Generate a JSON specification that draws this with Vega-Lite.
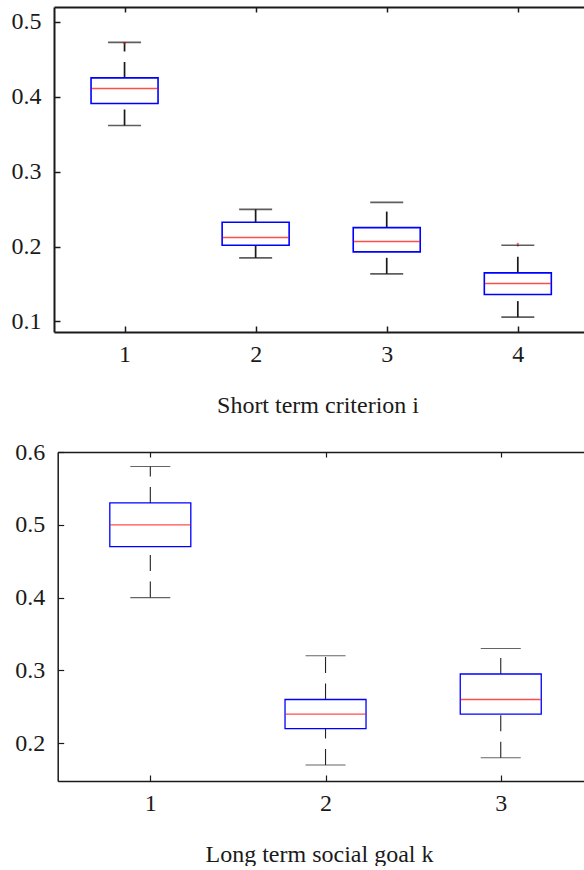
{
  "$schema": "https://vega.github.io/schema/vega-lite/v6.json",
  "background": "white",
  "padding": {"left": 11, "top": 6, "right": 0, "bottom": 0},
  "spacing": 23,
  "config": {
    "view": {"stroke": null},
    "font": "Liberation Serif",
    "axis": {
      "labelFont": "Liberation Serif",
      "titleFont": "Liberation Serif",
      "labelFontSize": 24,
      "titleFontSize": 24,
      "titleFontWeight": "normal",
      "labelColor": "#1a1a1a",
      "titleColor": "#1a1a1a",
      "domainColor": "#1a1a1a",
      "tickColor": "#1a1a1a",
      "grid": false
    }
  },
  "datasets": {
    "top": [
      {"k": 1, "lo": 0.3617, "q1": 0.3911, "med": 0.4111, "q3": 0.4253, "hi": 0.4728},
      {"k": 2, "lo": 0.1848, "q1": 0.2017, "med": 0.2120, "q3": 0.2324, "hi": 0.2497},
      {"k": 3, "lo": 0.1635, "q1": 0.1928, "med": 0.2067, "q3": 0.2253, "hi": 0.2591},
      {"k": 4, "lo": 0.1057, "q1": 0.1360, "med": 0.1507, "q3": 0.1648, "hi": 0.2017}
    ],
    "topOut": [
      {"k": 1, "v": 0.4715},
      {"k": 4, "v": 0.2035}
    ],
    "bottom": [
      {"k": 1, "lo": 0.40, "q1": 0.47, "med": 0.50, "q3": 0.53, "hi": 0.58},
      {"k": 2, "lo": 0.17, "q1": 0.22, "med": 0.24, "q3": 0.26, "hi": 0.32},
      {"k": 3, "lo": 0.18, "q1": 0.24, "med": 0.26, "q3": 0.295, "hi": 0.33}
    ]
  },
  "vconcat": [
    {
      "width": 532,
      "height": 325,
      "data": {"name": "top"},
      "resolve": {"axis": {"x": "independent"}},
      "layer": [
        {
          "mark": {"type": "rule", "color": "#1a1a1a", "strokeWidth": 1.7, "strokeDash": [16, 10.5]},
          "encoding": {
            "x": {"field": "k", "type": "quantitative", "scale": {"domain": [0.5, 4.482], "nice": false, "zero": false},
              "axis": {"orient": "bottom", "values": [1, 2, 3, 4], "format": "d", "title": "Short term criterion i", "titleX": 263.5, "tickSize": -6, "tickWidth": 1.5, "domainWidth": 2, "labelPadding": 16, "titlePadding": 27}},
            "y": {"field": "lo", "type": "quantitative", "scale": {"domain": [0.0858, 0.52], "nice": false, "zero": false},
              "axis": {"values": [0.1, 0.2, 0.3, 0.4, 0.5], "format": ".1f", "title": null, "tickSize": -6, "tickWidth": 1.5, "domainWidth": 2, "labelPadding": 19, "minExtent": 42}},
            "y2": {"field": "q1"}
          }
        },
        {
          "mark": {"type": "rule", "color": "#1a1a1a", "strokeWidth": 1.7, "strokeDash": [16, 10.5]},
          "encoding": {
            "x": {"field": "k", "type": "quantitative",
              "axis": {"orient": "top", "values": [1, 2, 3, 4], "labels": false, "title": null, "tickSize": -5, "tickWidth": 1.5, "domainWidth": 2}},
            "y": {"field": "q3", "type": "quantitative", "title": null},
            "y2": {"field": "hi"}
          }
        },
        {
          "mark": {"type": "tick", "orient": "horizontal", "color": "#1a1a1a", "size": 33, "thickness": 1.7},
          "encoding": {
            "x": {"field": "k", "type": "quantitative", "axis": null},
            "y": {"field": "lo", "type": "quantitative", "title": null}
          }
        },
        {
          "mark": {"type": "tick", "orient": "horizontal", "color": "#1a1a1a", "size": 33, "thickness": 1.7},
          "encoding": {
            "x": {"field": "k", "type": "quantitative", "axis": null},
            "y": {"field": "hi", "type": "quantitative", "title": null}
          }
        },
        {
          "mark": {"type": "bar", "size": 67, "fill": "transparent", "stroke": "#0000ff", "strokeWidth": 1.6},
          "encoding": {
            "x": {"field": "k", "type": "quantitative", "axis": null},
            "y": {"field": "q1", "type": "quantitative", "title": null},
            "y2": {"field": "q3"}
          }
        },
        {
          "mark": {"type": "tick", "orient": "horizontal", "color": "#ff0000", "size": 66, "thickness": 1.5},
          "encoding": {
            "x": {"field": "k", "type": "quantitative", "axis": null},
            "y": {"field": "med", "type": "quantitative", "title": null}
          }
        },
        {
          "data": {"name": "topOut"},
          "mark": {"type": "point", "shape": "cross", "filled": true, "color": "#ff0000", "size": 6},
          "encoding": {
            "x": {"field": "k", "type": "quantitative", "axis": null},
            "y": {"field": "v", "type": "quantitative", "title": null}
          }
        }
      ]
    },
    {
      "width": 532,
      "height": 329,
      "data": {"name": "bottom"},
      "resolve": {"axis": {"x": "independent"}},
      "layer": [
        {
          "mark": {"type": "rule", "color": "#222222", "strokeWidth": 1.1, "strokeDash": [16, 10.5]},
          "encoding": {
            "x": {"field": "k", "type": "quantitative", "scale": {"domain": [0.5, 3.458], "range": [3.7, 532], "nice": false, "zero": false},
              "axis": {"orient": "bottom", "values": [1, 2, 3], "format": "d", "title": "Long term social goal k", "titleX": 265, "tickSize": -6, "tickWidth": 1.2, "domainWidth": 1.5, "labelPadding": 16, "titlePadding": 27}},
            "y": {"field": "lo", "type": "quantitative", "scale": {"domain": [0.148, 0.6], "nice": false, "zero": false},
              "axis": {"values": [0.2, 0.3, 0.4, 0.5, 0.6], "format": ".1f", "title": null, "offset": -3.7, "tickSize": -6, "tickWidth": 1.2, "domainWidth": 1.5, "labelPadding": 19}},
            "y2": {"field": "q1"}
          }
        },
        {
          "mark": {"type": "rule", "color": "#222222", "strokeWidth": 1.1, "strokeDash": [16, 10.5]},
          "encoding": {
            "x": {"field": "k", "type": "quantitative",
              "axis": {"orient": "top", "values": [1, 2, 3], "labels": false, "title": null, "tickSize": -5, "tickWidth": 1.2, "domainWidth": 1.5}},
            "y": {"field": "q3", "type": "quantitative", "title": null},
            "y2": {"field": "hi"}
          }
        },
        {
          "mark": {"type": "tick", "orient": "horizontal", "color": "#222222", "size": 40, "thickness": 1.1},
          "encoding": {
            "x": {"field": "k", "type": "quantitative", "axis": null},
            "y": {"field": "lo", "type": "quantitative", "title": null}
          }
        },
        {
          "mark": {"type": "tick", "orient": "horizontal", "color": "#222222", "size": 40, "thickness": 1.1},
          "encoding": {
            "x": {"field": "k", "type": "quantitative", "axis": null},
            "y": {"field": "hi", "type": "quantitative", "title": null}
          }
        },
        {
          "mark": {"type": "bar", "size": 81, "fill": "transparent", "stroke": "#0000ff", "strokeWidth": 1.3},
          "encoding": {
            "x": {"field": "k", "type": "quantitative", "axis": null},
            "y": {"field": "q1", "type": "quantitative", "title": null},
            "y2": {"field": "q3"}
          }
        },
        {
          "mark": {"type": "tick", "orient": "horizontal", "color": "#ff0000", "size": 80, "thickness": 1.3},
          "encoding": {
            "x": {"field": "k", "type": "quantitative", "axis": null},
            "y": {"field": "med", "type": "quantitative", "title": null}
          }
        }
      ]
    }
  ]
}
